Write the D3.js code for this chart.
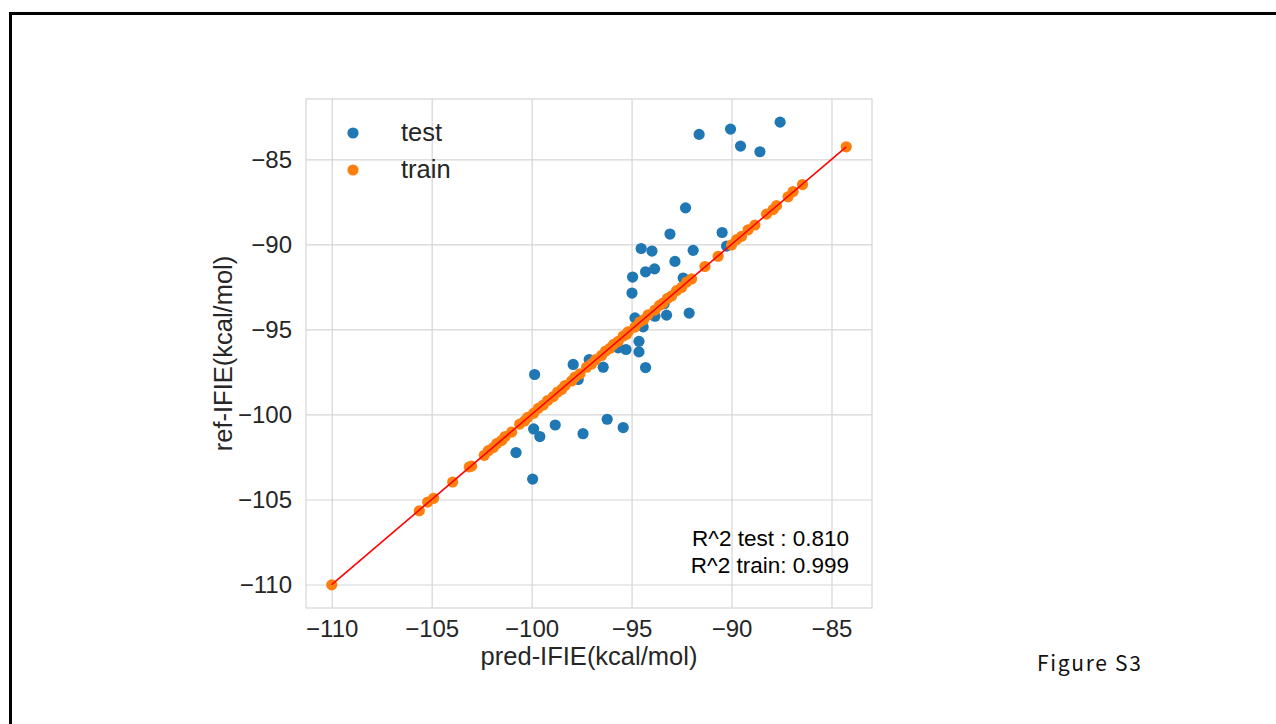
<!DOCTYPE html>
<html>
<head>
<meta charset="utf-8">
<script src="https://cdnjs.cloudflare.com/ajax/libs/d3/7.8.5/d3.min.js"></script>
<style>
  body { margin: 0; background: #fff; }
  svg { display: block; }
</style>
</head>
<body>
<div class="chart-area"></div>
<script>
// test set: [pred, ref]
const testPoints = [
  [-91.62, -83.53], [-90.05, -83.22], [-89.55, -84.22], [-88.58, -84.55], [-87.57, -82.81],
  [-92.30, -87.85], [-93.08, -89.39], [-90.47, -89.30], [-94.52, -90.24], [-93.98, -90.39],
  [-91.92, -90.35], [-90.25, -90.10], [-92.83, -91.00], [-94.30, -91.61], [-93.85, -91.44],
  [-94.95, -91.92], [-92.42, -91.98], [-94.98, -92.86], [-93.25, -94.16], [-92.12, -94.04],
  [-93.83, -94.22], [-94.83, -94.32], [-94.42, -94.85], [-94.63, -95.70], [-94.63, -96.32],
  [-94.30, -97.24], [-95.28, -96.18], [-95.67, -96.08], [-96.42, -97.22], [-97.12, -96.77],
  [-97.92, -97.06], [-97.67, -97.94], [-99.85, -97.65], [-99.90, -100.85], [-99.59, -101.30],
  [-98.82, -100.62], [-97.43, -101.13], [-96.22, -100.28], [-95.42, -100.77], [-100.78, -102.24],
  [-99.95, -103.80], [-93.37, -93.49]
];

// train set: [pred, ref]
const trainPoints = [
  [-110.00, -110.02], [-105.62, -105.67], [-105.20, -105.15], [-104.90, -104.93], [-103.95, -103.97],
  [-103.12, -103.08], [-103.00, -103.04], [-102.37, -102.40], [-102.17, -102.13], [-101.92, -101.95],
  [-101.75, -101.72], [-101.50, -101.53], [-101.33, -101.30], [-101.00, -101.04], [-100.60, -100.57],
  [-100.35, -100.38], [-100.20, -100.17], [-99.90, -99.93], [-99.67, -99.64], [-99.42, -99.45],
  [-99.20, -99.18], [-98.92, -98.95], [-98.70, -98.68], [-98.50, -98.53], [-98.33, -98.30],
  [-98.00, -98.03], [-97.83, -97.80], [-97.58, -97.61], [-97.25, -97.22], [-97.00, -97.03],
  [-96.80, -96.78], [-96.50, -96.53], [-96.30, -96.27], [-96.08, -96.11], [-95.90, -95.88],
  [-95.67, -95.70], [-95.42, -95.39], [-95.25, -95.28], [-95.17, -95.14], [-94.83, -94.86],
  [-94.60, -94.57], [-94.40, -94.43], [-94.17, -94.14], [-93.83, -93.86], [-93.60, -93.58],
  [-93.42, -93.45], [-93.20, -93.17], [-93.00, -93.03], [-92.75, -92.72], [-92.50, -92.53],
  [-92.25, -92.22], [-92.00, -92.03], [-91.33, -91.30], [-90.67, -90.70], [-90.00, -90.03],
  [-89.75, -89.72], [-89.50, -89.53], [-89.17, -89.14], [-88.83, -88.86], [-88.25, -88.22],
  [-87.92, -87.95], [-87.75, -87.72], [-87.17, -87.20], [-86.92, -86.89], [-86.45, -86.48],
  [-84.26, -84.26]
];

const xTicks = [-110, -105, -100, -95, -90, -85];
const yTicks = [-110, -105, -100, -95, -90, -85];
const fitLine = [-110.0, -84.26];
const scores = ["R^2 test : 0.810", "R^2 train: 0.999"];
const seriesNames = ["test", "train"];

const W = 1276, H = 724;
const box = {left: 306, right: 872, top: 99, bottom: 608};
const font = "'Liberation Sans', Arial, sans-serif";
const textColor = "#262626";
const gridColor = "#d5d5d5";

const svg = d3.select("div.chart-area").append("svg")
  .attr("width", W)
  .attr("height", H);

// page frame
svg.append("rect")
  .attr("x", 10.5).attr("y", 13.5)
  .attr("width", W + 20).attr("height", H + 20)
  .attr("fill", "none")
  .attr("stroke", "#000")
  .attr("stroke-width", 3);

// domains with 5% margin like matplotlib autoscale
const allX = testPoints.concat(trainPoints).map(d => d[0]);
const allY = testPoints.concat(trainPoints).map(d => d[1]);
function padded(ext) {
  let m = (ext[1] - ext[0]) * 0.05;
  return [ext[0] - m, ext[1] + m];
}

let x = d3.scaleLinear().domain(padded(d3.extent(allX))).range([box.left, box.right]);
let y = d3.scaleLinear().domain(padded(d3.extent(allY))).range([box.bottom, box.top]);

let plot = svg.append("g");

plot.append("rect")
  .attr("x", box.left).attr("y", box.top)
  .attr("width", box.right - box.left).attr("height", box.bottom - box.top)
  .attr("fill", "#fff");

// grid
let xAxis = d3.axisBottom(x).tickValues(xTicks).tickSize(-(box.bottom - box.top))
  .tickFormat(d => d3.format("d")(d).replace("-", "\u2212")).tickPadding(7);
let yAxis = d3.axisLeft(y).tickValues(yTicks).tickSize(-(box.right - box.left))
  .tickFormat(d => d3.format("d")(d).replace("-", "\u2212")).tickPadding(14);

let gx = plot.append("g")
  .attr("transform", "translate(0," + box.bottom + ")")
  .call(xAxis);
let gy = plot.append("g")
  .attr("transform", "translate(" + box.left + ",0)")
  .call(yAxis);

[gx, gy].forEach(g => {
  g.select(".domain").remove();
  g.selectAll(".tick line").attr("stroke", gridColor).attr("stroke-width", 1.2);
  g.selectAll(".tick text")
    .attr("fill", textColor)
    .style("font-family", font)
    .style("font-size", "24px");
});
gx.selectAll(".tick text").attr("dy", "0.9em");

plot.append("rect")
  .attr("x", box.left).attr("y", box.top)
  .attr("width", box.right - box.left).attr("height", box.bottom - box.top)
  .attr("fill", "none")
  .attr("stroke", gridColor)
  .attr("stroke-width", 1.2);

// points
let r = 5.6;
plot.append("g").selectAll("circle")
  .data(testPoints)
  .enter().append("circle")
  .attr("cx", d => x(d[0]))
  .attr("cy", d => y(d[1]))
  .attr("r", r)
  .attr("fill", "#1f77b4");

plot.append("g").selectAll("circle")
  .data(trainPoints)
  .enter().append("circle")
  .attr("cx", d => x(d[0]))
  .attr("cy", d => y(d[1]))
  .attr("r", r)
  .attr("fill", "#ff7f0e");

plot.append("line")
  .attr("x1", x(fitLine[0])).attr("y1", y(fitLine[0]))
  .attr("x2", x(fitLine[1])).attr("y2", y(fitLine[1]))
  .attr("stroke", "#ff0000")
  .attr("stroke-width", 1.6);

// legend
let legend = plot.append("g").attr("transform", "translate(353,133)");
let legendColors = ["#1f77b4", "#ff7f0e"];
seriesNames.forEach((name, i) => {
  let row = legend.append("g").attr("transform", "translate(0," + (i * 37) + ")");
  row.append("circle").attr("r", r).attr("fill", legendColors[i]);
  row.append("text")
    .attr("x", 48).attr("dy", "0.33em")
    .attr("fill", textColor)
    .style("font-family", font)
    .style("font-size", "25.5px")
    .text(name);
});

// score annotation
scores.forEach((s, i) => {
  plot.append("text")
    .attr("x", 849)
    .attr("y", 546 + i * 27)
    .attr("text-anchor", "end")
    .attr("fill", "#000")
    .style("font-family", font)
    .style("font-size", "22.5px")
    .text(s);
});

// axis labels
svg.append("text")
  .attr("x", (box.left + box.right) / 2)
  .attr("y", 665)
  .attr("text-anchor", "middle")
  .attr("fill", textColor)
  .style("font-family", font)
  .style("font-size", "25.5px")
  .text("pred-IFIE(kcal/mol)");

svg.append("text")
  .attr("transform", "translate(232," + ((box.top + box.bottom) / 2) + ") rotate(-90)")
  .attr("text-anchor", "middle")
  .attr("fill", textColor)
  .style("font-family", font)
  .style("font-size", "25.5px")
  .text("ref-IFIE(kcal/mol)");

svg.append("text")
  .attr("x", 1037)
  .attr("y", 671)
  .attr("fill", "#111")
  .attr("textLength", 104)
  .attr("lengthAdjust", "spacing")
  .style("font-family", "'Noto Sans CJK JP', 'Noto Sans', sans-serif")
  .style("font-size", "21px")
  .text("Figure S3");
</script>
</body>
</html>
